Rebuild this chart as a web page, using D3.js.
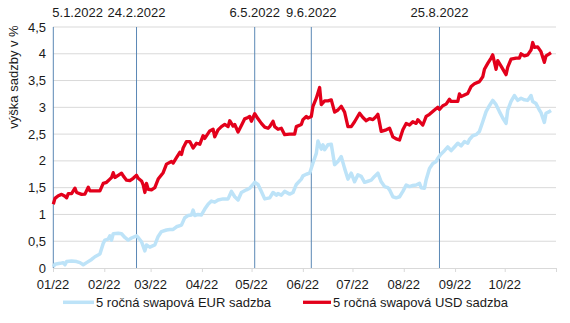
<!DOCTYPE html>
<html>
<head>
<meta charset="utf-8">
<script src="https://cdn.jsdelivr.net/npm/d3@7"></script>
<style>
  body { margin: 0; background: #fff; }
  svg { display: block; font-family: "Liberation Sans", Arial, sans-serif; }
</style>
</head>
<body>
<svg width="570" height="323"></svg>
<script>
const width = 570;
const height = 323;

// 5-year swap rates
const usdRates = [
  ["2022-01-05",1.19],["2022-01-06",1.30],["2022-01-08",1.35],["2022-01-10",1.375],["2022-01-12",1.34],
  ["2022-01-13",1.31],["2022-01-14",1.39],["2022-01-16",1.39],["2022-01-18",1.49],["2022-01-19",1.41],
  ["2022-01-22",1.375],["2022-01-24",1.38],["2022-01-26",1.51],["2022-01-27",1.44],["2022-01-30",1.44],
  ["2022-02-02",1.44],["2022-02-04",1.58],["2022-02-06",1.60],["2022-02-08",1.66],["2022-02-09",1.69],
  ["2022-02-10",1.78],["2022-02-11",1.69],["2022-02-13",1.73],["2022-02-15",1.77],["2022-02-16",1.72],
  ["2022-02-18",1.64],["2022-02-20",1.63],["2022-02-22",1.675],["2022-02-24",1.73],["2022-02-25",1.675],
  ["2022-02-27",1.625],["2022-02-28",1.55],["2022-03-01",1.41],["2022-03-02",1.58],["2022-03-03",1.47],
  ["2022-03-05",1.46],["2022-03-07",1.50],["2022-03-09",1.66],["2022-03-12",1.78],["2022-03-14",1.94],
  ["2022-03-17",1.99],["2022-03-18",1.96],["2022-03-20",2.06],["2022-03-22",2.16],["2022-03-23",2.12],
  ["2022-03-24",2.24],["2022-03-26",2.36],["2022-03-28",2.36],["2022-03-30",2.24],["2022-04-01",2.33],
  ["2022-04-03",2.31],["2022-04-05",2.47],["2022-04-06",2.42],["2022-04-09",2.56],["2022-04-11",2.59],
  ["2022-04-12",2.45],["2022-04-14",2.58],["2022-04-16",2.64],["2022-04-18",2.68],["2022-04-20",2.64],
  ["2022-04-21",2.75],["2022-04-23",2.65],["2022-04-24",2.68],["2022-04-26",2.54],["2022-04-28",2.66],
  ["2022-04-30",2.785],["2022-05-02",2.81],["2022-05-03",2.83],["2022-05-04",2.74],["2022-05-06",2.88],
  ["2022-05-08",2.785],["2022-05-10",2.70],["2022-05-12",2.63],["2022-05-14",2.61],["2022-05-15",2.64],
  ["2022-05-17",2.74],["2022-05-18",2.64],["2022-05-20",2.59],["2022-05-22",2.61],["2022-05-24",2.49],
  ["2022-05-27",2.50],["2022-05-30",2.50],["2022-05-31",2.64],["2022-06-03",2.68],["2022-06-04",2.77],
  ["2022-06-06",2.83],["2022-06-07",2.80],["2022-06-09",2.83],["2022-06-10",3.02],["2022-06-12",3.17],
  ["2022-06-14",3.37],["2022-06-15",3.05],["2022-06-17",3.12],["2022-06-19",3.12],["2022-06-21",3.14],
  ["2022-06-23",2.91],["2022-06-25",2.95],["2022-06-27",3.02],["2022-06-29",2.91],["2022-07-01",2.64],
  ["2022-07-03",2.64],["2022-07-05",2.73],["2022-07-08",2.89],["2022-07-10",2.81],["2022-07-12",2.75],
  ["2022-07-14",2.79],["2022-07-16",2.77],["2022-07-18",2.83],["2022-07-19",2.87],["2022-07-21",2.55],
  ["2022-07-24",2.58],["2022-07-26",2.61],["2022-07-28",2.45],["2022-07-30",2.41],["2022-08-01",2.39],
  ["2022-08-03",2.58],["2022-08-05",2.70],["2022-08-07",2.67],["2022-08-09",2.73],["2022-08-11",2.70],
  ["2022-08-12",2.77],["2022-08-15",2.67],["2022-08-17",2.83],["2022-08-19",2.87],["2022-08-22",2.95],
  ["2022-08-24",3.00],["2022-08-25",2.96],["2022-08-27",3.03],["2022-08-29",3.06],["2022-08-31",3.15],
  ["2022-09-01",3.11],["2022-09-03",3.11],["2022-09-05",3.11],["2022-09-06",3.25],["2022-09-07",3.20],
  ["2022-09-09",3.23],["2022-09-11",3.26],["2022-09-13",3.39],["2022-09-15",3.44],["2022-09-18",3.48],
  ["2022-09-20",3.57],["2022-09-21",3.71],["2022-09-23",3.82],["2022-09-25",3.92],["2022-09-26",3.98],
  ["2022-09-28",3.71],["2022-09-29",3.87],["2022-10-01",3.77],["2022-10-04",3.61],["2022-10-05",3.75],
  ["2022-10-07",3.90],["2022-10-10",3.92],["2022-10-12",3.92],["2022-10-13",4.00],["2022-10-15",3.96],
  ["2022-10-17",3.98],["2022-10-19",4.07],["2022-10-20",4.21],["2022-10-21",4.12],["2022-10-23",4.13],
  ["2022-10-25",4.04],["2022-10-27",3.84],["2022-10-28",3.96],["2022-10-30",4.00],["2022-10-31",4.02]
];

const eurRates = [
  ["2022-01-05",0.025],["2022-01-06",0.07],["2022-01-09",0.087],["2022-01-11",0.10],["2022-01-12",0.06],
  ["2022-01-13",0.12],["2022-01-16",0.13],["2022-01-19",0.12],["2022-01-21",0.10],["2022-01-23",0.06],
  ["2022-01-25",0.10],["2022-01-28",0.16],["2022-01-30",0.21],["2022-02-02",0.26],["2022-02-04",0.46],
  ["2022-02-05",0.52],["2022-02-07",0.54],["2022-02-08",0.60],["2022-02-09",0.52],["2022-02-10",0.64],
  ["2022-02-13",0.65],["2022-02-15",0.64],["2022-02-17",0.57],["2022-02-19",0.52],["2022-02-21",0.56],
  ["2022-02-24",0.60],["2022-02-25",0.57],["2022-02-27",0.49],["2022-03-01",0.32],["2022-03-02",0.43],
  ["2022-03-04",0.39],["2022-03-07",0.43],["2022-03-09",0.59],["2022-03-11",0.68],["2022-03-14",0.71],
  ["2022-03-16",0.72],["2022-03-18",0.72],["2022-03-20",0.77],["2022-03-23",0.80],["2022-03-25",0.94],
  ["2022-03-27",0.98],["2022-03-29",0.99],["2022-03-30",1.08],["2022-03-31",0.98],["2022-04-02",1.00],
  ["2022-04-04",0.99],["2022-04-06",1.10],["2022-04-08",1.19],["2022-04-10",1.25],["2022-04-12",1.23],
  ["2022-04-14",1.27],["2022-04-17",1.29],["2022-04-20",1.29],["2022-04-22",1.43],["2022-04-24",1.33],
  ["2022-04-26",1.27],["2022-04-28",1.41],["2022-05-01",1.46],["2022-05-03",1.49],["2022-05-05",1.56],
  ["2022-05-06",1.60],["2022-05-08",1.56],["2022-05-10",1.43],["2022-05-12",1.29],["2022-05-15",1.31],
  ["2022-05-17",1.41],["2022-05-19",1.36],["2022-05-20",1.39],["2022-05-22",1.36],["2022-05-24",1.43],
  ["2022-05-27",1.38],["2022-05-29",1.41],["2022-05-31",1.56],["2022-06-03",1.66],["2022-06-04",1.72],
  ["2022-06-06",1.75],["2022-06-08",1.77],["2022-06-10",1.96],["2022-06-12",2.14],["2022-06-13",2.37],
  ["2022-06-15",2.22],["2022-06-16",2.30],["2022-06-17",2.21],["2022-06-19",2.30],["2022-06-21",2.31],
  ["2022-06-23",1.93],["2022-06-25",1.99],["2022-06-27",2.08],["2022-06-29",1.86],["2022-07-01",1.66],
  ["2022-07-03",1.77],["2022-07-05",1.61],["2022-07-07",1.74],["2022-07-09",1.71],["2022-07-11",1.60],
  ["2022-07-13",1.62],["2022-07-15",1.64],["2022-07-17",1.71],["2022-07-19",1.77],["2022-07-21",1.61],
  ["2022-07-23",1.52],["2022-07-25",1.50],["2022-07-26",1.46],["2022-07-28",1.33],["2022-07-30",1.31],
  ["2022-08-01",1.33],["2022-08-03",1.43],["2022-08-05",1.55],["2022-08-07",1.52],["2022-08-09",1.54],
  ["2022-08-11",1.55],["2022-08-13",1.58],["2022-08-14",1.50],["2022-08-16",1.49],["2022-08-17",1.65],
  ["2022-08-19",1.86],["2022-08-21",1.95],["2022-08-23",1.99],["2022-08-24",2.05],["2022-08-26",2.13],
  ["2022-08-28",2.19],["2022-08-30",2.26],["2022-09-01",2.19],["2022-09-03",2.26],["2022-09-05",2.33],
  ["2022-09-07",2.28],["2022-09-09",2.36],["2022-09-11",2.33],["2022-09-12",2.40],["2022-09-14",2.47],
  ["2022-09-16",2.49],["2022-09-18",2.55],["2022-09-20",2.73],["2022-09-22",2.92],["2022-09-24",3.03],
  ["2022-09-26",3.13],["2022-09-28",3.05],["2022-09-30",2.92],["2022-10-02",2.80],["2022-10-04",2.70],
  ["2022-10-05",2.95],["2022-10-07",3.11],["2022-10-09",3.22],["2022-10-11",3.13],["2022-10-13",3.17],
  ["2022-10-15",3.14],["2022-10-17",3.13],["2022-10-19",3.22],["2022-10-20",3.11],["2022-10-22",3.07],
  ["2022-10-24",2.95],["2022-10-25",2.90],["2022-10-27",2.72],["2022-10-28",2.89],["2022-10-30",2.92],
  ["2022-10-31",2.94]
];

// marked events (vertical lines)
const eventDates = ["2022-01-05","2022-02-24","2022-05-06","2022-06-09","2022-08-25"];
const eventLabels = ["5.1.2022","24.2.2022","6.5.2022","9.6.2022","25.8.2022"];

const monthStarts = ["2022-01-01","2022-02-01","2022-03-01","2022-04-01","2022-05-01","2022-06-01",
  "2022-07-01","2022-08-01","2022-09-01","2022-10-01","2022-11-01"];
const monthLabels = ["01/22","02/22","03/22","04/22","05/22","06/22","07/22","08/22","09/22","10/22"];

const yTicks = [0, 0.5, 1, 1.5, 2, 2.5, 3, 3.5, 4, 4.5];

const seriesNames = ["5 ročná swapová EUR sadzba", "5 ročná swapová USD sadzba"];
const eurColor = "#bde3f8";
const usdColor = "#e3001b";

const parse = d3.timeParse("%Y-%m-%d");
const fmtNum = d => String(d).replace(".", ",");

const plotLeft = 53, plotRight = 556, plotTop = 27, plotBottom = 268;
const fontSize = 13;

const svg = d3.select("svg");

// data + events scale
const x = d3.scaleTime()
  .domain([parse("2022-01-05"), parse("2022-10-31")])
  .range([53.3, 551]);
// axis (month borders)
const xTick = d3.scaleTime()
  .domain([parse("2022-01-01"), parse("2022-11-01")])
  .range([plotLeft, plotRight]);

const y = d3.scaleLinear().domain([0, 4.5]).range([plotBottom, plotTop]);

// gridlines
svg.append("g")
  .selectAll("line")
  .data(yTicks.filter(d => d > 0))
  .join("line")
  .attr("x1", plotLeft).attr("x2", plotRight)
  .attr("y1", d => y(d)).attr("y2", d => y(d))
  .attr("stroke", "#d9d9d9")
  .attr("stroke-width", 1);

// y labels
svg.append("g")
  .selectAll("text")
  .data(yTicks)
  .join("text")
  .attr("x", 46)
  .attr("y", d => y(d))
  .attr("dy", "0.35em")
  .attr("text-anchor", "end")
  .attr("font-size", fontSize)
  .attr("fill", "#1a1a1a")
  .text(fmtNum);

svg.append("text")
  .attr("transform", "translate(18,77) rotate(-90)")
  .attr("text-anchor", "middle")
  .attr("font-size", fontSize)
  .attr("fill", "#1a1a1a")
  .text("výška sadzby v %");

// x axis line + tick marks
const xAxis = svg.append("g")
  .attr("transform", `translate(0,${plotBottom})`)
  .call(d3.axisBottom(xTick)
    .tickValues(monthStarts.map(parse))
    .tickFormat("")
    .tickSize(4)
    .tickSizeOuter(0));
xAxis.select(".domain").attr("stroke", "#d9d9d9");
xAxis.selectAll(".tick line").attr("stroke", "#d9d9d9");

// x labels, centred on the month ticks
svg.append("g")
  .selectAll("text")
  .data(monthLabels)
  .join("text")
  .attr("x", (d, i) => xTick(parse(monthStarts[i])))
  .attr("y", 288.5)
  .attr("text-anchor", "middle")
  .attr("font-size", fontSize)
  .attr("fill", "#1a1a1a")
  .text(d => d);

// event lines
svg.append("g")
  .selectAll("line")
  .data(eventDates)
  .join("line")
  .attr("x1", d => x(parse(d))).attr("x2", d => x(parse(d)))
  .attr("y1", plotTop).attr("y2", plotBottom)
  .attr("stroke", "#5b88b5")
  .attr("stroke-width", 1);

svg.append("g")
  .selectAll("text")
  .data(eventLabels)
  .join("text")
  .attr("x", (d, i) => i === 0 ? x(parse(eventDates[i])) - 1 : x(parse(eventDates[i])))
  .attr("y", 17)
  .attr("text-anchor", (d, i) => i === 0 ? "start" : "middle")
  .attr("font-size", fontSize)
  .attr("fill", "#1a1a1a")
  .text(d => d);

const line = d3.line()
  .x(d => x(parse(d[0])))
  .y(d => y(d[1]))
  .curve(d3.curveLinear);

svg.append("path")
  .datum(eurRates)
  .attr("d", line)
  .attr("fill", "none")
  .attr("stroke", eurColor)
  .attr("stroke-width", 3.5)
  .attr("stroke-linejoin", "round");

svg.append("path")
  .datum(usdRates)
  .attr("d", line)
  .attr("fill", "none")
  .attr("stroke", usdColor)
  .attr("stroke-width", 3.3)
  .attr("stroke-linejoin", "round");

// legend
const legend = svg.append("g");
const legendPos = [[63, 94], [303, 331]];
seriesNames.forEach((name, i) => {
  const [x0, x1] = legendPos[i];
  legend.append("line")
    .attr("x1", x0).attr("x2", x1)
    .attr("y1", 302.3).attr("y2", 302.3)
    .attr("stroke", i === 0 ? eurColor : usdColor)
    .attr("stroke-width", i === 0 ? 3.5 : 3.3);
  legend.append("text")
    .attr("x", x1 + 2)
    .attr("y", 306.7)
    .attr("font-size", fontSize)
    .attr("fill", "#1a1a1a")
    .text(name);
});
</script>
</body>
</html>
